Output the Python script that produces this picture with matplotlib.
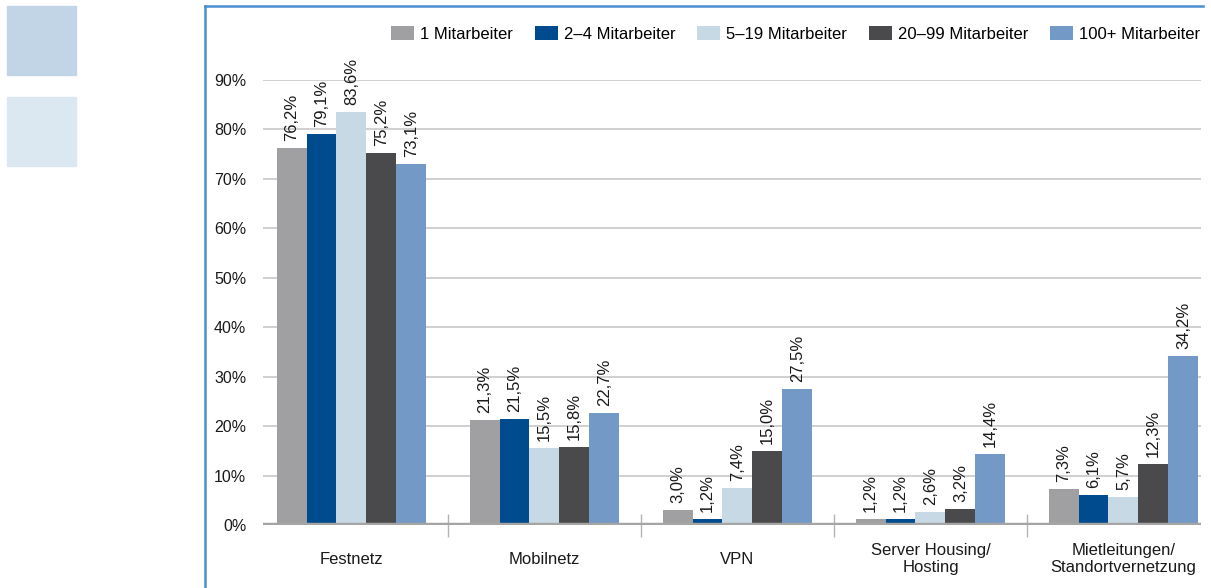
import matplotlib.pyplot as plt
from matplotlib.patches import Patch, Rectangle
import numpy as np

plt.rcParams['font.family'] = ['Liberation Sans', 'DejaVu Sans']

categories = ["Festnetz", "Mobilnetz", "VPN", "Server Housing/\nHosting",
              "Mietleitungen/\nStandortvernetzung"]
series_names = ["1 Mitarbeiter", "2–4 Mitarbeiter", "5–19 Mitarbeiter",
                "20–99 Mitarbeiter", "100+ Mitarbeiter"]
ma_1 = [76.2, 21.3, 3.0, 1.2, 7.3]
ma_2_4 = [79.1, 21.5, 1.2, 1.2, 6.1]
ma_5_19 = [83.6, 15.5, 7.4, 2.6, 5.7]
ma_20_99 = [75.2, 15.8, 15.0, 3.2, 12.3]
ma_100 = [73.1, 22.7, 27.5, 14.4, 34.2]
yticks = [0, 10, 20, 30, 40, 50, 60, 70, 80, 90]

colors = ["#a0a0a2", "#004b8d", "#c8d9e6", "#4a4a4c", "#7399c6"]
series = [ma_1, ma_2_4, ma_5_19, ma_20_99, ma_100]

fig = plt.figure(figsize=(12.11, 5.88), dpi=100)
ax = fig.add_axes([263 / 1211, 1 - 525 / 588, (1201 - 263) / 1211, (525 - 80) / 588])

# decorative blocks and frame
fig.patches.append(Rectangle((7 / 1211, 1 - 75 / 588), 69 / 1211, 69 / 588,
                             transform=fig.transFigure, color="#c2d5e6", zorder=0))
fig.patches.append(Rectangle((7 / 1211, 1 - 166 / 588), 69 / 1211, 69 / 588,
                             transform=fig.transFigure, color="#dbe7f1", zorder=0))
fig.add_artist(plt.Line2D([205 / 1211, 205 / 1211], [0, 1 - 6 / 588],
                          transform=fig.transFigure, color="#4a8fd0", lw=1.8))
fig.add_artist(plt.Line2D([205 / 1211, 1203 / 1211], [1 - 6 / 588, 1 - 6 / 588],
                          transform=fig.transFigure, color="#4a8fd0", lw=1.8))

x = np.arange(len(categories))
width = 0.1554
for i, (vals, col) in enumerate(zip(series, colors)):
    pos = x + (i - 2) * width
    ax.bar(pos, vals, width, color=col, zorder=3)
    for px, v in zip(pos, vals):
        ax.annotate(f"{v:.1f}%".replace(".", ","), (px, v), xytext=(0, 5),
                    textcoords="offset points", rotation=90, ha="center",
                    va="bottom", fontsize=12, color="#1a1a1a")

ax.set_xlim(-0.4585, 4.4016)
ax.set_ylim(0, 90)
ax.set_yticks(yticks)
ax.set_yticklabels([f"{t}%" for t in yticks], fontsize=11.5, color="#1a1a1a")
ax.tick_params(axis="y", length=0, pad=12)
ax.set_xticks([])
for s in ax.spines.values():
    s.set_visible(False)
ax.grid(axis="y", color="#d0d0d0", lw=1.4, zorder=0)
ax.axhline(0, color="#a5a5a5", lw=3.2, zorder=4)
ax.vlines([0.5, 1.5, 2.5, 3.5], -2.4, 2.2, color="#b4b4b4", lw=1, clip_on=False, zorder=2)

for xi, name in zip(x, categories):
    ax.text(xi, -6.9, name, ha="center", va="center", fontsize=12,
            color="#1a1a1a", linespacing=1.2)

handles = [Patch(facecolor=c) for c in colors]
fig.legend(handles, series_names, ncol=5, loc="center right",
           bbox_to_anchor=(1200 / 1211, 1 - 34 / 588), frameon=False,
           fontsize=12, handlelength=1.38, handleheight=0.84,
           handletextpad=0.36, columnspacing=1.3, borderaxespad=0, borderpad=0)

fig.savefig("out.png", dpi=100)
